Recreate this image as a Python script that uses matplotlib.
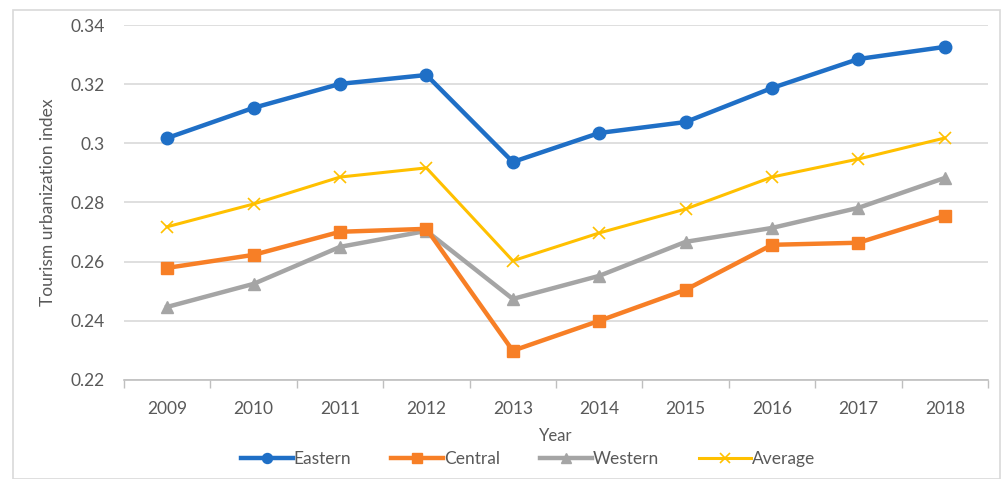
import matplotlib.pyplot as plt
from matplotlib.patches import Rectangle

years = ['2009', '2010', '2011', '2012', '2013', '2014', '2015', '2016', '2017', '2018']
eastern = [0.3018, 0.3120, 0.3201, 0.3231, 0.2937, 0.3035, 0.3072, 0.3187, 0.3285, 0.3326]
central = [0.2579, 0.2623, 0.2701, 0.2711, 0.2299, 0.2400, 0.2505, 0.2657, 0.2664, 0.2755]
western = [0.2447, 0.2525, 0.2650, 0.2704, 0.2474, 0.2552, 0.2667, 0.2714, 0.2782, 0.2883]
average = [0.2718, 0.2795, 0.2886, 0.2917, 0.2603, 0.2697, 0.2778, 0.2886, 0.2947, 0.3018]
y_ticks = [0.22, 0.24, 0.26, 0.28, 0.30, 0.32, 0.34]
y_tick_labels = ['0.22', '0.24', '0.26', '0.28', '0.3', '0.32', '0.34']

plt.rcParams['font.family'] = ['Lato', 'DejaVu Sans']
text_color = '#595959'

fig = plt.figure(figsize=(10.06, 4.79), dpi=100)
# chart area border
fig.patches.append(Rectangle((13 / 1006, 0.0), 987 / 1006, 1 - 10 / 479, transform=fig.transFigure,
                             fill=False, edgecolor='#D9D9D9', linewidth=1.2))
ax = fig.add_axes([124 / 1006, 1 - 380 / 479, (988 - 124) / 1006, (380 - 25) / 479])

x = list(range(len(years)))
ax.plot(x, eastern, color='#1F6FC6', lw=3.2, marker='o', ms=9, label='Eastern', zorder=5)
ax.plot(x, central, color='#F77F26', lw=3.2, marker='s', ms=9, label='Central', zorder=4)
ax.plot(x, western, color='#A5A5A5', lw=3.2, marker='^', ms=9, label='Western', zorder=3)
ax.plot(x, average, color='#FFC000', lw=2.2, marker='x', ms=9, mew=1.2, label='Average', zorder=2)

ax.set_xlim(-0.5, len(years) - 0.5)
ax.set_ylim(0.22, 0.34)
ax.set_yticks(y_ticks)
ax.set_yticklabels(y_tick_labels)
ax.set_xticks(x)
ax.set_xticklabels(years)
ax.set_xticks([i - 0.5 for i in range(len(years) + 1)], minor=True)
ax.tick_params(axis='x', which='major', length=0, pad=15, labelsize=12.5, labelcolor=text_color)
ax.tick_params(axis='x', which='minor', length=6, width=1, color='#BFBFBF')
ax.tick_params(axis='y', length=0, pad=14, labelsize=12.5, labelcolor=text_color)

ax.grid(axis='y', color='#D9D9D9', lw=1.2)
ax.set_axisbelow(True)
for s in ['left', 'right', 'top']:
    ax.spines[s].set_visible(False)
ax.spines['bottom'].set_color('#BFBFBF')
ax.spines['bottom'].set_linewidth(1.2)

ax.set_xlabel('Year', fontsize=12, color=text_color, labelpad=8)
ax.set_ylabel('Tourism urbanization index', fontsize=12.5, color=text_color, labelpad=10)

ax.legend(loc='center', bbox_to_anchor=(528 / 1006, 1 - 459 / 479), bbox_transform=fig.transFigure,
          ncol=4, frameon=False, fontsize=12.5, labelcolor=text_color, handlelength=3.0,
          handletextpad=0.05, columnspacing=2.3, numpoints=1, markerscale=0.8)

fig.savefig('out.png', dpi=100)
